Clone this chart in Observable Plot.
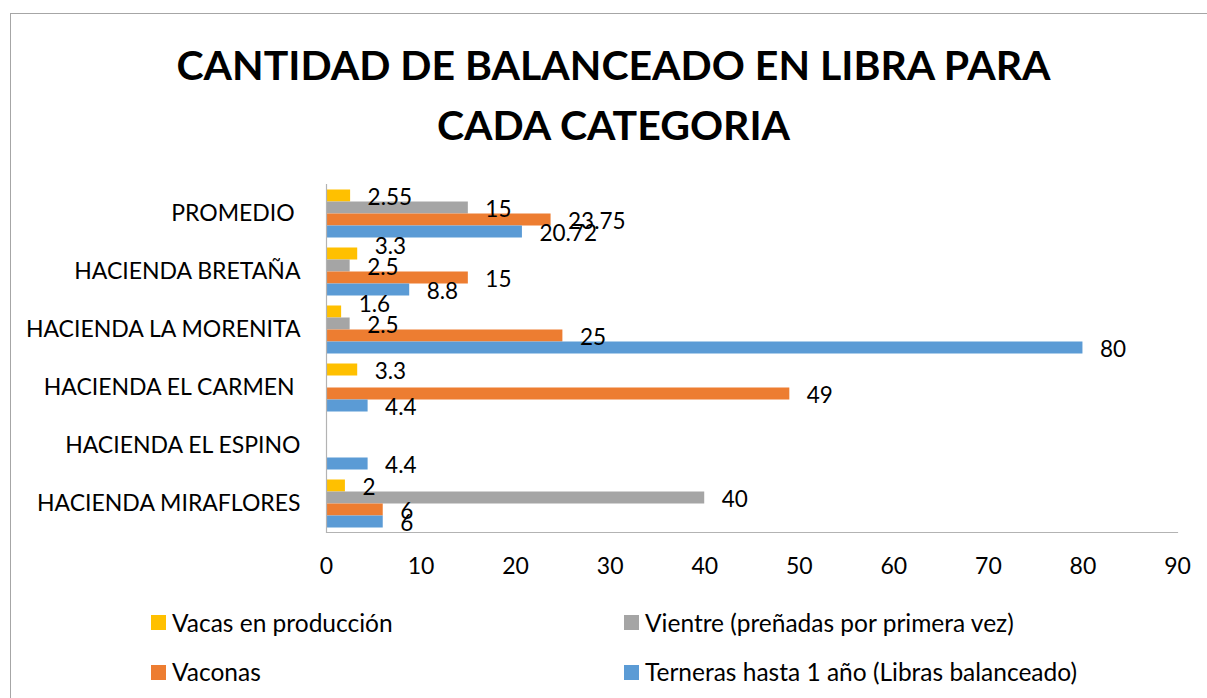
<!DOCTYPE html>
<html><head><meta charset="utf-8">
<script src="https://cdn.jsdelivr.net/npm/d3@7"></script>
<script src="https://cdn.jsdelivr.net/npm/@observablehq/plot@0.6"></script>
<style>
body{margin:0;background:#fff;font-family:Lato,"Open Sans",sans-serif;color:#000;}
#frame{position:absolute;left:10px;top:13px;width:1220px;height:700px;border:1px solid #a6a6a6;box-sizing:border-box;}
#title{position:absolute;left:0;top:35px;width:1227px;text-align:center;font-weight:bold;font-size:41px;line-height:60px;}
#chart{position:absolute;left:0;top:170px;}
#chart svg text{white-space:pre;}
.item{position:absolute;font-size:24.5px;line-height:26px;white-space:nowrap;display:flex;align-items:center;}
.sw{width:15px;height:15px;margin-right:6px;flex:none;}
</style></head>
<body>
<div id="frame"></div>
<div id="title">CANTIDAD DE BALANCEADO EN LIBRA PARA<br>CADA CATEGORIA</div>
<div id="chart"></div>
<div id="legend"></div>
<script>
const categories = ["PROMEDIO ", "HACIENDA BRETAÑA", "HACIENDA LA MORENITA", "HACIENDA EL CARMEN ", "HACIENDA EL ESPINO", "HACIENDA MIRAFLORES"];
const series = ["Vacas en producción", "Vientre (preñadas por primera vez)", "Vaconas", "Terneras hasta 1 año (Libras balanceado)"];
const vacasEnProduccion = [2.55, 3.3, 1.6, 3.3, null, 2];
const vientre = [15, 2.5, 2.5, null, null, 40];
const vaconas = [23.75, 15, 25, 49, null, 6];
const terneras = [20.72, 8.8, 80, 4.4, 4.4, 6];
const colors = ["#FFC000", "#A5A5A5", "#ED7D31", "#5B9BD5"];
const xTicks = [0, 10, 20, 30, 40, 50, 60, 70, 80, 90];

const seriesValues = [vacasEnProduccion, vientre, vaconas, terneras];
const data = [];
categories.forEach((c, i) => {
  series.forEach((s, j) => {
    const v = seriesValues[j][i];
    if (v == null) return;
    // like Excel, lift a label that would collide with the label just below it
    const below = j < series.length - 1 ? seriesValues[j + 1][i] : null;
    const lift = j === 0 && below != null && Math.abs(below - v) < 3;
    data.push({cat: c, series: s, value: v, lift});
  });
});

const textOpts = {x: "value", y: "series", fy: "cat", text: d => String(d.value), dx: 17, textAnchor: "start", fill: "#000", fontSize: 22.5};

const chart = Plot.plot({
  width: 1207,
  height: 420,
  marginLeft: 326,
  marginRight: 30,
  marginTop: 13.5,
  marginBottom: 58.5,
  style: {fontFamily: "Lato, 'Open Sans', sans-serif", fontSize: "23px", color: "#000", background: "transparent"},
  x: {domain: [0, 90], ticks: xTicks, tickSize: 0, tickPadding: 25, label: null},
  y: {domain: series, axis: null, paddingInner: 0, paddingOuter: 0.367},
  fy: {domain: categories, axis: "left", padding: 0, tickSize: 0, tickPadding: 26, label: null},
  color: {domain: series, range: colors},
  marks: [
    Plot.barX(data, {x: "value", y: "series", fy: "cat", fill: "series"}),
    Plot.ruleX([0], {stroke: "#b3b3b3", strokeWidth: 1.2}),
    Plot.frame({anchor: "bottom", facet: "super", stroke: "#b3b3b3", strokeWidth: 1.2}),
    Plot.text(data.filter(d => !d.lift), {...textOpts, dy: 2}),
    Plot.text(data.filter(d => d.lift), {...textOpts, dy: -7})
  ]
});
document.getElementById("chart").appendChild(chart);

const legendPos = [[151, 622.5], [624, 622.5], [151, 672], [624, 672]];
const legend = document.getElementById("legend");
series.forEach((s, j) => {
  const it = document.createElement("div");
  it.className = "item";
  it.style.left = legendPos[j][0] + "px";
  it.style.top = (legendPos[j][1] - 13) + "px";
  it.innerHTML = `<span class="sw" style="background:${colors[j]}"></span><span>${s}</span>`;
  legend.appendChild(it);
});
</script>
</body></html>
